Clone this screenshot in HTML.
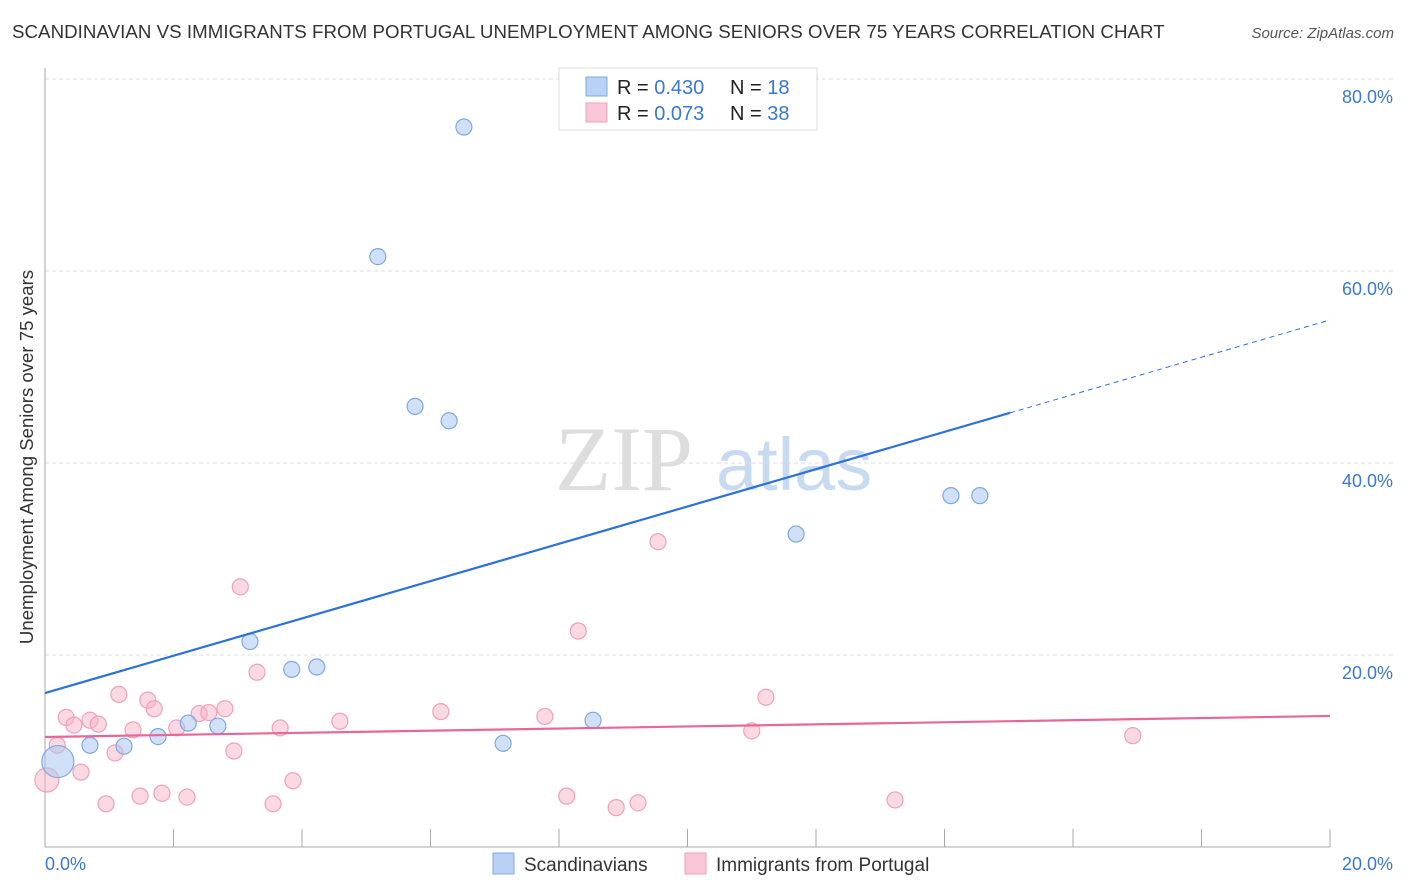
<!DOCTYPE html>
<html><head><meta charset="utf-8"><style>
body{margin:0;background:#fff;font-family:"Liberation Sans",sans-serif;}
#wrap{position:relative;width:1406px;height:892px;overflow:hidden;}
.t{position:absolute;white-space:nowrap;}
</style></head><body>
<div id="wrap">
<div class="t" style="left:12px;top:21px;font-size:18.7px;color:#333;letter-spacing:0.05px;">SCANDINAVIAN VS IMMIGRANTS FROM PORTUGAL UNEMPLOYMENT AMONG SENIORS OVER 75 YEARS CORRELATION CHART</div>
<div class="t" style="right:12px;top:25px;font-size:15px;color:#555;font-style:italic;">Source: ZipAtlas.com</div>
<svg id="plot" width="1406" height="892" style="position:absolute;left:0;top:0"></svg>
</div>
<script>
const blueX=[0.2,0.7,1.23,1.76,2.23,2.69,3.19,3.84,4.23,5.18,5.76,6.29,6.52,7.13,8.53,11.69,14.1,14.55];
const blueY=[8.9,10.6,10.5,11.5,12.9,12.6,21.4,18.5,18.75,61.5,45.9,44.4,75,10.8,13.2,32.6,36.6,36.6];
const pinkX=[0.03,0.19,0.33,0.45,0.56,0.70,0.83,0.95,1.09,1.15,1.37,1.48,1.60,1.70,1.82,2.05,2.21,2.40,2.55,2.80,2.94,3.04,3.30,3.55,3.66,3.86,4.59,6.16,7.78,8.12,8.30,8.89,9.23,9.54,11.0,11.22,13.23,16.93];
const pinkY=[6.98,10.6,13.5,12.7,7.8,13.2,12.8,4.5,9.8,15.9,12.2,5.3,15.3,14.4,5.6,12.4,5.2,13.9,14.0,14.4,10.0,27.1,18.2,4.5,12.4,6.9,13.1,14.1,13.6,5.3,22.5,4.1,4.6,31.8,12.1,15.6,4.9,11.6];
const yTicks=[20,40,60,80];
const yTickLabels=["20.0%","40.0%","60.0%","80.0%"];
const blueTrend=[16.04,54.9];
const pinkTrend=[11.46,13.65];
const blueSolidEnd=15.02;

const X=v=>45+v*64.25, Y=v=>847-v*9.6;
const svg=document.getElementById('plot');
const NS='http://www.w3.org/2000/svg';
function mk(tag,attrs,parent){const e=document.createElementNS(NS,tag);for(const k in attrs)e.setAttribute(k,attrs[k]);(parent||svg).appendChild(e);return e;}
let wm=mk('text',{x:555,y:490,'font-size':92,'font-family':'Liberation Serif, serif',fill:'#ddd'});wm.textContent='ZIP';


let wm2=mk('text',{x:716,y:490,'font-size':74,'font-family':'Liberation Sans, sans-serif',fill:'#c7daf0'});wm2.textContent='atlas';


yTicks.forEach((t,i)=>{
 const g=mk('line',{x1:45,x2:1395,y1:Y(t),y2:Y(t),stroke:'#ddd','stroke-dasharray':'4,3'});
 
 
 const l=mk('text',{x:1393,y:Y(t)+24,'text-anchor':'end','font-size':18,fill:'#3a78d0'});l.textContent=yTickLabels[i];
 
 
});
let ax=mk('line',{x1:45,x2:45,y1:68,y2:847,stroke:'#aaa'});


let bx=mk('line',{x1:45,x2:1330,y1:847,y2:847,stroke:'#aaa'});


for(let i=1;i<=10;i++){const tk=mk('line',{x1:X(i*2),x2:X(i*2),y1:829,y2:847,stroke:'#aaa'});
 
 }
let x0=mk('text',{x:45,y:870,'font-size':18,fill:'#3a78d0'});x0.textContent='0.0%';


let x1=mk('text',{x:1393,y:870,'font-size':18,fill:'#3a78d0','text-anchor':'end'});x1.textContent='20.0%';


let yl=mk('text',{x:0,y:0,'font-size':18.6,fill:'#333','text-anchor':'middle',transform:'translate(33,457) rotate(-90)'});yl.textContent='Unemployment Among Seniors over 75 years';


pinkX.forEach((v,i)=>{const c=mk('circle',{cx:X(v),cy:Y(pinkY[i]),r:i==0?12:8,fill:'rgba(248,180,200,0.5)',stroke:'#f0a0bb','stroke-width':1.2});
 
 });
blueX.forEach((v,i)=>{const c=mk('circle',{cx:X(v),cy:Y(blueY[i]),r:i==0?16:8,fill:'rgba(170,200,240,0.55)',stroke:'#7fa8e0','stroke-width':1.2});
 
 });
const bAt=x=>blueTrend[0]+(blueTrend[1]-blueTrend[0])*x/20;
let bt=mk('line',{x1:X(0),y1:Y(bAt(0)),x2:X(blueSolidEnd),y2:Y(bAt(blueSolidEnd)),stroke:'#2e72d8','stroke-width':2.2});


let bd=mk('line',{x1:X(blueSolidEnd),y1:Y(bAt(blueSolidEnd)),x2:X(20),y2:Y(bAt(20)),stroke:'#2e72d8','stroke-width':1,'stroke-dasharray':'5,4'});


let pt=mk('line',{x1:X(0),y1:Y(pinkTrend[0]),x2:X(20),y2:Y(pinkTrend[1]),stroke:'#e8679a','stroke-width':2.2});


let lb=mk('rect',{x:559,y:68,width:258,height:62,fill:'#fff',stroke:'#ddd'});


[['#b8d1f5','#7fa8e0','0.430','18',87],['#f8c6d6','#f0a0bb','0.073','38',113]].forEach(r=>{
 const s=mk('rect',{x:586,y:r[4]-10,width:21,height:19,fill:r[0],stroke:r[1]});
 
 
 const t=mk('text',{x:617,y:r[4]+7,'font-size':20,fill:'#222'});
 t.innerHTML='R = <tspan fill="#3a78d0">'+r[2]+'</tspan><tspan x="730">N = </tspan><tspan fill="#3a78d0">'+r[3]+'</tspan>';
 
 
});
[['#b8d1f5','#7fa8e0',493,'Scandinavians'],['#f8c6d6','#f0a0bb',685,'Immigrants from Portugal']].forEach(r=>{
 const s=mk('rect',{x:r[2],y:853,width:21,height:21,fill:r[0],stroke:r[1]});
 
 
 const t=mk('text',{x:r[2]+31,y:871,'font-size':19,fill:'#333'});t.textContent=r[3];
 
 
});
</script>
</body></html>
